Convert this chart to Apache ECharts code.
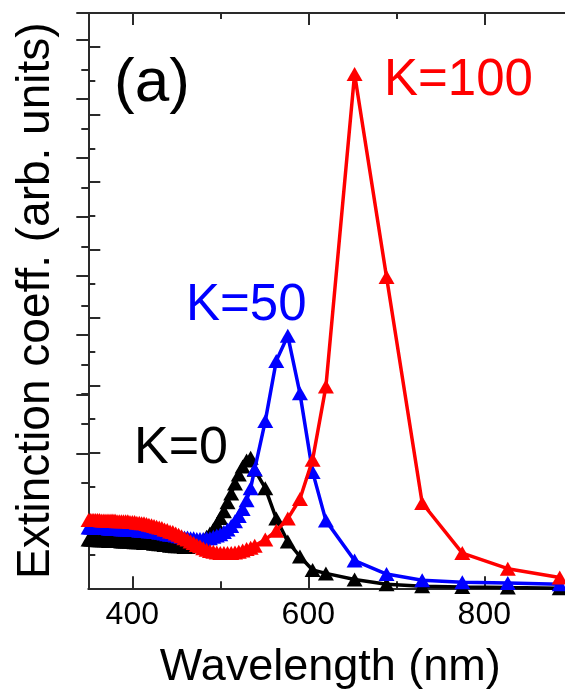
<!DOCTYPE html>
<html>
<head>
<meta charset="utf-8">
<script src="https://cdn.jsdelivr.net/npm/echarts@6/dist/echarts.min.js"></script>
<style>html,body{margin:0;padding:0;background:#fff}#c{width:565px;height:690px}</style>
</head>
<body>
<div id="c"></div>
<script>
// Wavelengths (nm) shared by all series
var wavelength = [
  350.3,352.3,354.3,356.3,358.4,360.5,362.6,364.7,366.9,369.0,
  371.3,373.5,375.8,378.0,380.4,382.7,385.1,387.5,389.9,392.4,
  394.9,397.4,400.0,402.6,405.2,407.9,410.6,413.3,416.1,418.9,
  421.8,424.7,427.6,430.6,433.6,436.6,439.7,442.9,446.0,449.3,
  452.6,455.9,459.3,462.7,466.2,469.7,473.3,476.9,480.6,484.4,
  488.2,492.1,496.0,500.0,504.1,508.2,512.4,516.7,521.0,525.4,
  529.9,534.5,539.1,551.1,563.6,576.7,590.5,604.9,620.0,652.6,
  688.9,729.4,775.0,826.7,885.7];
var k0 = [
  0.72,0.72,0.72,0.72,0.72,0.71,0.71,0.71,0.71,0.71,
  0.71,0.70,0.70,0.70,0.70,0.70,0.70,0.69,0.69,0.69,
  0.69,0.69,0.69,0.68,0.68,0.68,0.68,0.67,0.67,0.67,
  0.67,0.66,0.66,0.65,0.65,0.64,0.64,0.63,0.63,0.62,
  0.62,0.62,0.61,0.61,0.62,0.63,0.65,0.67,0.71,0.76,
  0.81,0.87,0.95,1.04,1.14,1.27,1.40,1.55,1.68,1.80,
  1.89,1.93,1.75,1.48,1.03,0.69,0.47,0.27,0.22,0.13,
  0.06,0.03,0.02,0.01,0.00];
var k50 = [
  0.90,0.90,0.90,0.90,0.90,0.89,0.89,0.89,0.89,0.89,
  0.89,0.88,0.88,0.88,0.88,0.88,0.88,0.87,0.87,0.87,
  0.87,0.86,0.86,0.86,0.86,0.85,0.85,0.85,0.85,0.84,
  0.84,0.83,0.83,0.82,0.82,0.81,0.80,0.79,0.79,0.78,
  0.77,0.76,0.75,0.75,0.74,0.74,0.73,0.73,0.73,0.74,
  0.74,0.76,0.78,0.80,0.83,0.87,0.92,0.99,1.07,1.17,
  1.30,1.48,1.76,2.47,3.36,3.73,2.88,1.72,1.00,0.41,
  0.21,0.12,0.09,0.08,0.06];
var k100 = [
  1.01,1.01,1.01,1.01,1.01,1.01,1.01,1.00,1.00,1.00,
  1.00,1.00,1.00,1.00,1.00,0.99,0.99,0.99,0.99,0.99,
  0.99,0.98,0.98,0.98,0.97,0.97,0.96,0.96,0.95,0.94,
  0.93,0.92,0.91,0.90,0.89,0.87,0.86,0.84,0.83,0.81,
  0.79,0.77,0.74,0.72,0.69,0.67,0.64,0.62,0.59,0.57,
  0.55,0.54,0.53,0.52,0.52,0.52,0.52,0.53,0.54,0.56,
  0.58,0.60,0.63,0.72,0.85,1.03,1.32,1.90,2.98,7.60,
  4.60,1.26,0.52,0.29,0.16];
var xMajorTicks = [400,600,800];
var seriesNames = ['K=0','K=50','K=100'];
var seriesColors = ['#000000','#0000ff','#ff0000'];

var FONT = '"Liberation Sans", Arial, Helvetica, sans-serif';
var AX = '#2a2a2a';
function pairs(v){ return wavelength.map(function(w,i){ return [w, v[i]]; }); }

var L = 88.3, W = 484, T = 13, B = 101.7;
var chart = echarts.init(document.getElementById('c'), null, {renderer:'canvas'});
var hiddenX = function(g){ return {gridIndex:g, type:'value', show:false, min:0, max:1}; };
var hiddenY = function(g){ return {gridIndex:g, type:'value', show:false, min:0, max:1}; };
function grid(o){ o.outerBoundsMode = 'none'; o.containLabel = false; return o; }

var option = {
  animation: false,
  backgroundColor: '#fff',
  grid: [
    grid({left:L, width:W, top:T, bottom:B}),                 // 0 main
    grid({left:L, width:W, top:T, bottom:B}),                 // 1 left minor ticks
    grid({left:132.3, width:440, top:T, bottom:B}),           // 2 x minor ticks (400..900)
    grid({left:132.3, width:352, top:T, bottom:B}),           // 3 x major ticks (400..800)
    grid({left:L, width:W, top:T, bottom:690-453.3}),         // 4 right major ticks
    grid({left:L, width:W, top:T, bottom:690-482.8})          // 5 right minor ticks
  ],
  xAxis: [
    {gridIndex:0, type:'value', position:'bottom', min:350, max:900,
     axisLine:{show:true, lineStyle:{color:AX, width:2}}, axisTick:{show:false}, axisLabel:{show:false}, splitLine:{show:false},
     name:'Wavelength (nm)', nameLocation:'middle', nameGap:57,
     nameTextStyle:{fontFamily:FONT, fontSize:45, color:'#000'}},
    {gridIndex:0, type:'value', position:'top', min:350, max:900,
     axisLine:{show:true, lineStyle:{color:AX, width:2}}, axisTick:{show:false}, axisLabel:{show:false}, splitLine:{show:false}},
    hiddenX(1),
    {gridIndex:2, type:'value', position:'bottom', min:400, max:900, interval:100,
     axisLine:{show:false}, axisTick:{show:true, inside:true, length:7, lineStyle:{color:AX, width:2}}, axisLabel:{show:false}, splitLine:{show:false}},
    {gridIndex:2, type:'value', position:'top', min:400, max:900, interval:100,
     axisLine:{show:false}, axisTick:{show:true, inside:true, length:6, lineStyle:{color:AX, width:2}}, axisLabel:{show:false}, splitLine:{show:false}},
    {gridIndex:3, type:'value', position:'bottom', min:400, max:800, interval:200,
     axisLine:{show:false}, axisTick:{show:true, inside:true, length:12, lineStyle:{color:AX, width:2}},
     axisLabel:{show:true, margin:11, fontFamily:FONT, fontSize:32, color:'#000',
       formatter:function(v){ return xMajorTicks.indexOf(v) >= 0 ? String(v) : ''; }},
     splitLine:{show:false}},
    {gridIndex:3, type:'value', position:'top', min:400, max:800, interval:200,
     axisLine:{show:false}, axisTick:{show:true, inside:true, length:12, lineStyle:{color:AX, width:2}}, axisLabel:{show:false}, splitLine:{show:false}},
    hiddenX(4),
    hiddenX(5)
  ],
  yAxis: [
    {gridIndex:0, type:'value', position:'left', min:0, max:8.5, interval:1,
     axisLine:{show:true, lineStyle:{color:AX, width:2}}, axisTick:{show:true, inside:true, length:12, lineStyle:{color:AX, width:2}},
     axisLabel:{show:false}, splitLine:{show:false},
     name:'Extinction coeff. (arb. units)', nameLocation:'middle', nameGap:29,
     nameTextStyle:{fontFamily:FONT, fontSize:46, color:'#000'}},
    {gridIndex:1, type:'value', position:'left', min:0, max:8.5, interval:0.5,
     axisLine:{show:false}, axisTick:{show:true, inside:true, length:7, lineStyle:{color:AX, width:2}}, axisLabel:{show:false}, splitLine:{show:false}},
    hiddenY(2),
    hiddenY(3),
    {gridIndex:4, type:'value', position:'right', min:0, max:(453.3-13)/59.05, interval:1,
     axisLine:{show:false}, axisTick:{show:true, inside:true, length:12, lineStyle:{color:AX, width:2}}, axisLabel:{show:false}, splitLine:{show:false}},
    {gridIndex:5, type:'value', position:'right', min:0, max:(482.8-13)/59.05, interval:0.5,
     axisLine:{show:false}, axisTick:{show:true, inside:true, length:7, lineStyle:{color:AX, width:2}}, axisLabel:{show:false}, splitLine:{show:false}}
  ],
  series: [k0, k50, k100].map(function(v, i){
    return {
      name: seriesNames[i], type:'line', xAxisIndex:0, yAxisIndex:0,
      data: pairs(v), symbol:'triangle', symbolSize:[16,14], showSymbol:true, showAllSymbol:true,
      lineStyle:{color:seriesColors[i], width:3.5}, itemStyle:{color:seriesColors[i]},
      z: 2 + i, clip: true
    };
  }),
  graphic: [
    {type:'text', x:114, y:84, style:{text:'(a)', font:'62px ' + FONT, fill:'#000', align:'left', verticalAlign:'middle'}},
    {type:'text', x:384, y:81, style:{text:seriesNames[2], font:'51px ' + FONT, fill:seriesColors[2], align:'left', verticalAlign:'middle'}},
    {type:'text', x:186, y:306, style:{text:seriesNames[1], font:'51px ' + FONT, fill:seriesColors[1], align:'left', verticalAlign:'middle'}},
    {type:'text', x:134, y:449, style:{text:seriesNames[0], font:'52px ' + FONT, fill:seriesColors[0], align:'left', verticalAlign:'middle'}}
  ]
};
chart.setOption(option);
</script>
</body>
</html>
